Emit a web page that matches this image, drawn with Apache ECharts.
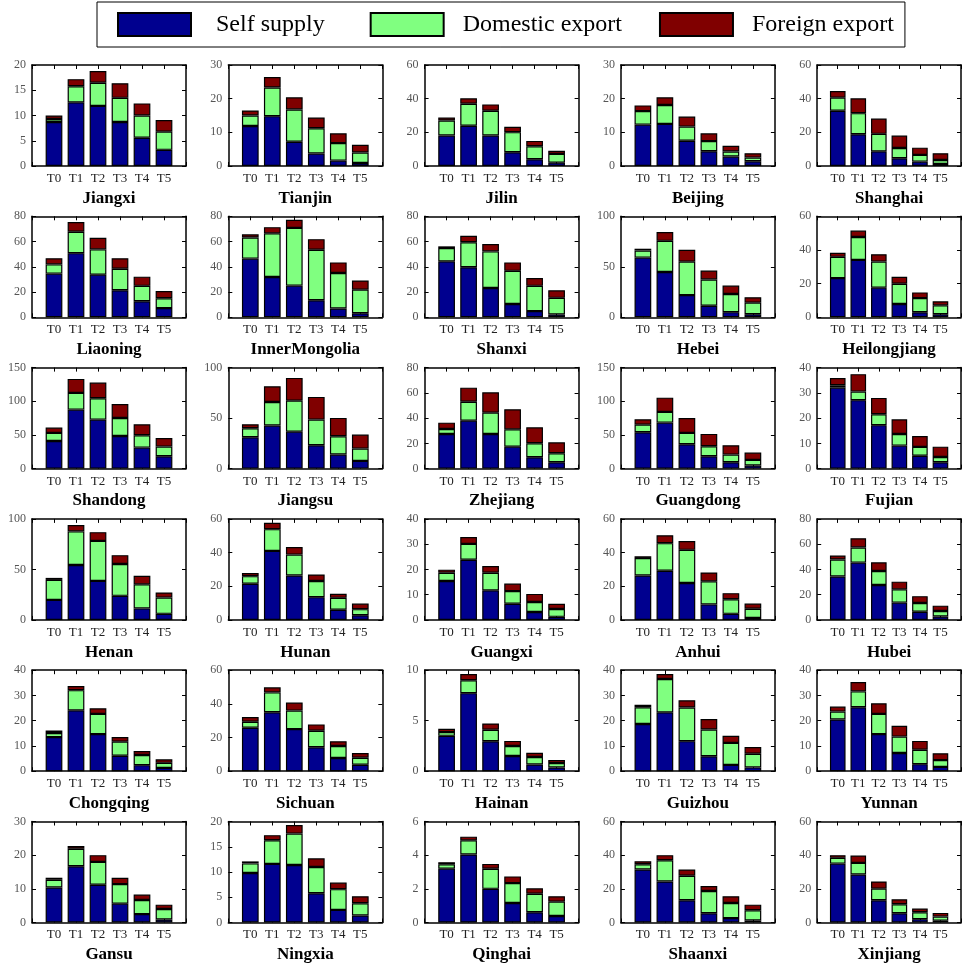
<!DOCTYPE html>
<html>
<head>
<meta charset="utf-8">
<script src="https://cdn.jsdelivr.net/npm/echarts@6/dist/echarts.min.js"></script>
<style>
  html, body { margin: 0; padding: 0; background: #fff; }
  #chart { width: 964px; height: 969px; }
</style>
</head>
<body>
<div id="chart"></div>
<script>
// Provinces, in panel order (row by row, five per row)
const provinces = [
  'Jiangxi', 'Tianjin', 'Jilin', 'Beijing', 'Shanghai',
  'Liaoning', 'InnerMongolia', 'Shanxi', 'Hebei', 'Heilongjiang',
  'Shandong', 'Jiangsu', 'Zhejiang', 'Guangdong', 'Fujian',
  'Henan', 'Hunan', 'Guangxi', 'Anhui', 'Hubei',
  'Chongqing', 'Sichuan', 'Hainan', 'Guizhou', 'Yunnan',
  'Gansu', 'Ningxia', 'Qinghai', 'Shaanxi', 'Xinjiang'
];

const periods = ['T0', 'T1', 'T2', 'T3', 'T4', 'T5'];

// Y-axis range and tick step of each panel
const yMax = [
  20, 30, 60, 30, 60,
  80, 80, 80, 100, 60,
  150, 100, 80, 150, 40,
  100, 60, 40, 60, 80,
  40, 60, 10, 40, 40,
  30, 20, 6, 60, 60
];
const yStep = [
  5, 10, 20, 10, 20,
  20, 20, 20, 50, 20,
  50, 50, 20, 50, 10,
  50, 20, 10, 20, 20,
  10, 20, 5, 10, 10,
  10, 5, 2, 20, 20
];

// Stacked components for T0..T5
const selfSupply = [
  [8.7, 12.6, 11.9, 8.7, 5.6, 3.2],
  [11.9, 14.8, 7.2, 3.7, 1.6, 0.9],
  [18.1, 23.9, 18.1, 8.2, 4.0, 2.0],
  [12.3, 12.5, 7.5, 4.4, 2.8, 1.4],
  [32.8, 18.9, 8.7, 4.6, 2.6, 1.2],
  [34.6, 50.8, 33.8, 21.4, 12.7, 7.3],
  [46.5, 31.9, 25.1, 13.5, 7.0, 3.2],
  [44.3, 39.7, 23.2, 10.5, 4.9, 2.2],
  [59.1, 44.9, 22.0, 11.5, 5.1, 3.0],
  [23.3, 34.1, 17.6, 7.9, 3.0, 1.8],
  [41.1, 87.6, 72.8, 48.5, 31.2, 18.3],
  [31.0, 42.6, 36.6, 23.1, 13.9, 7.6],
  [27.4, 38.0, 27.4, 17.4, 9.0, 5.0],
  [54.0, 68.3, 36.1, 18.3, 9.4, 4.5],
  [32.1, 27.1, 17.2, 9.1, 5.1, 2.5],
  [19.8, 54.4, 38.6, 23.8, 11.4, 6.0],
  [21.5, 41.0, 26.4, 13.5, 6.0, 2.8],
  [15.4, 23.8, 11.7, 6.4, 3.1, 1.2],
  [26.4, 29.2, 21.9, 9.2, 3.6, 1.2],
  [34.4, 45.4, 27.7, 13.7, 6.4, 2.7],
  [13.5, 24.1, 14.7, 6.1, 2.4, 1.3],
  [25.8, 35.0, 25.0, 14.2, 7.8, 3.8],
  [3.5, 7.73, 2.97, 1.5, 0.67, 0.37],
  [18.7, 23.3, 11.9, 5.9, 2.5, 1.5],
  [20.5, 25.3, 14.7, 7.2, 2.8, 1.7],
  [10.4, 16.7, 11.2, 5.6, 2.5, 0.9],
  [9.8, 11.6, 11.4, 5.8, 2.5, 1.4],
  [3.2, 4.04, 2.0, 1.16, 0.61, 0.39],
  [31.5, 24.4, 13.2, 5.5, 2.6, 1.2],
  [35.0, 28.5, 13.2, 5.5, 2.0, 1.0]
];
const domesticExport = [
  [0.6, 3.2, 4.6, 4.8, 4.4, 3.6],
  [3.1, 8.5, 9.6, 7.5, 5.2, 3.1],
  [8.9, 13.1, 14.7, 11.9, 7.7, 5.2],
  [4.0, 5.6, 4.2, 3.0, 1.5, 1.1],
  [7.8, 12.5, 10.4, 6.1, 4.0, 2.4],
  [7.3, 17.0, 20.0, 17.0, 12.2, 7.8],
  [16.7, 34.6, 45.7, 40.0, 28.1, 18.7],
  [10.6, 19.8, 29.0, 26.3, 20.0, 13.2],
  [7.1, 30.8, 33.1, 26.0, 17.9, 11.5],
  [12.6, 13.6, 15.5, 12.0, 8.4, 5.3],
  [11.9, 24.8, 31.7, 26.7, 18.3, 14.4],
  [8.9, 23.4, 30.7, 25.4, 18.1, 12.2],
  [4.0, 15.0, 16.9, 13.7, 11.1, 7.1],
  [11.3, 15.9, 16.9, 14.9, 11.4, 8.4],
  [0.9, 3.4, 4.3, 4.6, 3.5, 2.1],
  [19.8, 33.2, 39.6, 31.6, 23.8, 16.1],
  [4.5, 12.9, 12.4, 9.6, 7.1, 3.6],
  [3.3, 6.3, 7.0, 5.0, 4.0, 3.1],
  [10.4, 16.4, 19.7, 13.7, 8.7, 5.4],
  [13.4, 12.0, 11.0, 10.5, 7.0, 4.3],
  [1.6, 8.0, 8.0, 5.6, 4.0, 2.0],
  [3.6, 11.8, 11.0, 9.8, 7.2, 4.2],
  [0.37, 1.27, 1.13, 1.0, 0.73, 0.43],
  [6.6, 13.2, 13.3, 10.6, 8.7, 5.4],
  [3.1, 6.3, 8.0, 6.5, 5.7, 2.7],
  [2.3, 5.2, 6.8, 5.8, 4.2, 3.1],
  [1.9, 4.7, 6.2, 5.2, 4.1, 2.4],
  [0.26, 0.84, 1.19, 1.18, 1.1, 0.85],
  [3.1, 12.6, 14.6, 13.2, 9.0, 6.1],
  [3.4, 6.9, 6.9, 5.3, 4.1, 2.5]
];
const foreignExport = [
  [0.7, 1.4, 2.3, 2.9, 2.4, 2.3],
  [1.5, 3.1, 3.6, 3.2, 2.9, 2.3],
  [1.8, 3.2, 3.8, 3.2, 3.2, 1.8],
  [1.7, 2.3, 3.0, 2.3, 1.7, 1.3],
  [3.9, 8.8, 9.1, 7.4, 4.3, 4.0],
  [4.9, 7.6, 9.2, 8.4, 7.3, 5.7],
  [2.5, 4.9, 6.5, 8.4, 8.4, 7.3],
  [1.3, 5.1, 5.9, 6.7, 6.2, 6.0],
  [1.7, 8.8, 11.8, 8.8, 8.4, 5.4],
  [2.4, 3.8, 4.4, 4.2, 3.4, 2.4],
  [7.9, 20.8, 23.2, 20.8, 16.3, 12.8],
  [4.0, 15.5, 22.5, 22.5, 18.2, 13.9],
  [5.0, 11.1, 16.1, 15.9, 12.6, 8.7],
  [8.0, 21.2, 22.2, 18.3, 13.9, 10.9],
  [2.9, 6.9, 6.5, 5.8, 4.3, 4.1],
  [2.0, 6.4, 8.7, 8.7, 8.4, 5.1],
  [1.8, 3.8, 4.5, 3.9, 2.4, 3.3],
  [1.2, 2.7, 2.6, 3.0, 3.2, 2.1],
  [1.0, 4.7, 5.3, 5.3, 3.6, 3.1],
  [3.2, 7.3, 6.9, 6.1, 5.4, 4.3],
  [1.0, 1.6, 2.2, 1.8, 1.6, 1.4],
  [2.8, 3.0, 4.8, 3.8, 2.8, 2.8],
  [0.33, 0.63, 0.63, 0.5, 0.43, 0.3],
  [1.0, 2.0, 2.9, 4.2, 2.8, 2.7],
  [2.0, 3.7, 4.2, 4.3, 3.5, 2.7],
  [0.6, 0.8, 2.0, 1.9, 1.6, 1.3],
  [0.4, 1.0, 1.7, 1.7, 1.3, 1.4],
  [0.12, 0.22, 0.29, 0.4, 0.32, 0.32],
  [1.8, 3.0, 3.7, 3.0, 4.0, 3.3],
  [1.6, 4.4, 4.3, 3.0, 2.2, 2.2]
];

const seriesNames = ['Self supply', 'Domestic export', 'Foreign export'];
const seriesColors = ['#00008F', '#80FF80', '#800000'];

const FONT = 'Liberation Serif';
const COLS = 5;
const GRID_LEFT = 32, COL_PITCH = 196.3, GRID_W = 154;
const GRID_TOP = 65, ROW_PITCH = 151.3, GRID_H = 101;

// Padding slot on each side of the six periods, so bars sit at 1..6 of a 0..7 range
const xCats = [''].concat(periods, ['']);

const grids = [], xAxes = [], yAxes = [], series = [];
const frameLine = { show: true, onZero: false, lineStyle: { color: '#000', width: 1.5 } };
const xTick = { show: true, inside: true, length: 4, interval: 0, lineStyle: { color: '#000', width: 1 } };
const yTick = { show: true, inside: true, length: 4, lineStyle: { color: '#000', width: 1 } };

provinces.forEach((name, i) => {
  const r = Math.floor(i / COLS), c = i % COLS;
  grids.push({
    left: GRID_LEFT + c * COL_PITCH,
    top: GRID_TOP + r * ROW_PITCH,
    width: GRID_W,
    height: GRID_H
  });
  xAxes.push({
    type: 'category', gridIndex: i, position: 'bottom', data: xCats, boundaryGap: false,
    axisLine: frameLine, axisTick: xTick, splitLine: { show: false },
    axisLabel: { interval: 0, margin: 6, fontFamily: FONT, fontSize: 13, color: '#222' },
    name: name, nameLocation: 'middle', nameGap: 24,
    nameTextStyle: { fontFamily: FONT, fontWeight: 'bold', fontSize: 17, color: '#000' }
  });
  xAxes.push({
    type: 'category', gridIndex: i, position: 'top', data: xCats, boundaryGap: false,
    axisLine: frameLine, axisTick: xTick, axisLabel: { show: false }, splitLine: { show: false }
  });
  yAxes.push({
    type: 'value', gridIndex: i, position: 'left', min: 0, max: yMax[i], interval: yStep[i],
    axisLine: frameLine, axisTick: yTick, splitLine: { show: false },
    axisLabel: { margin: 6, fontFamily: FONT, fontSize: 12, color: '#555' }
  });
  yAxes.push({
    type: 'value', gridIndex: i, position: 'right', min: 0, max: yMax[i], interval: yStep[i],
    axisLine: frameLine, axisTick: yTick, axisLabel: { show: false }, splitLine: { show: false }
  });
  [selfSupply, domesticExport, foreignExport].forEach((arr, k) => {
    series.push({
      type: 'bar', name: seriesNames[k],
      xAxisIndex: 2 * i, yAxisIndex: 2 * i, stack: 'panel' + i,
      barWidth: '76%',
      data: ['-'].concat(arr[i], ['-']),
      itemStyle: { color: seriesColors[k], borderColor: '#000', borderWidth: 1.2 },
      emphasis: { disabled: true }
    });
  });
});

// Legend entries: text spacing per entry keeps the three keys evenly laid out in the box
const legendTextPad = [[0, 12, 0, 20], [0, 4, 0, 14], [0, 0, 0, 14]];

const chart = echarts.init(document.getElementById('chart'));
chart.setOption({
  animation: false,
  backgroundColor: '#fff',
  legend: {
    data: seriesNames.map((n, k) => ({ name: n, textStyle: { padding: legendTextPad[k] } })),
    left: 97, top: 2,
    padding: [10, 11, 10, 20],
    itemWidth: 73, itemHeight: 23, itemGap: 33,
    borderColor: '#000', borderWidth: 1,
    icon: 'rect',
    textStyle: { fontFamily: FONT, fontSize: 24, color: '#000', lineHeight: 23 }
  },
  grid: grids,
  xAxis: xAxes,
  yAxis: yAxes,
  series: series
});
</script>
</body>
</html>
